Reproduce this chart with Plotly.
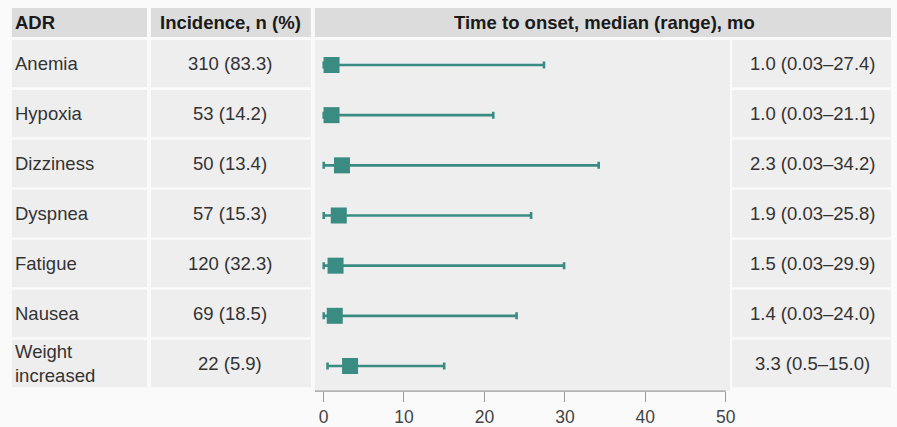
import plotly.graph_objects as go

adr = ["Anemia", "Hypoxia", "Dizziness", "Dyspnea", "Fatigue", "Nausea", "Weight<br>increased"]
incidence = ["310 (83.3)", "53 (14.2)", "50 (13.4)", "57 (15.3)", "120 (32.3)", "69 (18.5)", "22 (5.9)"]
median = [1.0, 1.0, 2.3, 1.9, 1.5, 1.4, 3.3]
low = [0.03, 0.03, 0.03, 0.03, 0.03, 0.03, 0.5]
high = [27.4, 21.1, 34.2, 25.8, 29.9, 24.0, 15.0]
range_text = ["1.0 (0.03\u201327.4)", "1.0 (0.03\u201321.1)", "2.3 (0.03\u201334.2)", "1.9 (0.03\u201325.8)",
              "1.5 (0.03\u201329.9)", "1.4 (0.03\u201324.0)", "3.3 (0.5\u201315.0)"]
headers = ["ADR", "Incidence, n (%)", "Time to onset, median (range), mo"]
xticks = [0, 10, 20, 30, 40, 50]

W, H = 897, 427
FONT = "Liberation Sans, Arial, sans-serif"
TEAL = "#3a8c82"
CELL = "#eeeeee"
HEAD = "#dcdcdc"
BG = "#fafafa"
HSIZE = 18.5
BSIZE = 18.5

def px(x):
    return x / W

def py(y):
    return 1 - y / H

n = len(adr)
ypos = list(range(n))

fig = go.Figure()
fig.add_trace(go.Scatter(
    x=median, y=ypos, mode="markers",
    marker=dict(symbol="square", size=16, color=TEAL),
    error_x=dict(type="data", symmetric=False,
                 array=[h - m for h, m in zip(high, median)],
                 arrayminus=[m - l for m, l in zip(median, low)],
                 color=TEAL, thickness=2.6, width=3.5),
    showlegend=False, hoverinfo="skip",
))

shapes = []
hdr_top, hdr_bot = 8, 37
cols = [(12, 148), (152, 313), (317, 897)]
for (x0, x1) in cols:
    shapes.append(dict(type="rect", xref="paper", yref="paper",
                       x0=px(x0), x1=px(x1), y0=py(hdr_bot), y1=py(hdr_top),
                       fillcolor=HEAD, line=dict(width=0), layer="below"))

row_top0 = 40
pitch = 50.1
cell_h = 47.5
for i in range(n):
    t = row_top0 + pitch * i
    b = t + cell_h
    for (x0, x1) in [(12, 148), (152, 313), (737, 897)]:
        shapes.append(dict(type="rect", xref="paper", yref="paper",
                           x0=px(x0), x1=px(x1), y0=py(b), y1=py(t),
                           fillcolor=CELL, line=dict(width=0), layer="below"))

shapes.append(dict(type="line", xref="x", yref="paper",
                   x0=-1.07, x1=50, y0=py(392), y1=py(392),
                   line=dict(color="#9a9a9a", width=1.2)))

annotations = []
hdr_pos = [(13, "left"), (232, "center"), (609, "center")]
for (hx, anc), txt in zip(hdr_pos, headers):
    annotations.append(dict(x=px(hx), y=py(22.5), xref="paper", yref="paper", text="<b>" + txt + "</b>",
                            showarrow=False, xanchor=anc, yanchor="middle",
                            font=dict(family=FONT, size=HSIZE, color="#1a1a1a")))
for i in range(n):
    yc = row_top0 + pitch * i + cell_h / 2
    annotations.append(dict(x=px(13), y=py(yc), xref="paper", yref="paper", text=adr[i],
                            showarrow=False, xanchor="left", yanchor="middle", align="left",
                            font=dict(family=FONT, size=BSIZE, color="#333333")))
    annotations.append(dict(x=px(232), y=py(yc), xref="paper", yref="paper", text=incidence[i],
                            showarrow=False, xanchor="center", yanchor="middle",
                            font=dict(family=FONT, size=BSIZE, color="#333333")))
    annotations.append(dict(x=px(818), y=py(yc), xref="paper", yref="paper", text=range_text[i],
                            showarrow=False, xanchor="center", yanchor="middle",
                            font=dict(family=FONT, size=BSIZE, color="#333333")))

fig.update_layout(
    autosize=True,
    margin=dict(l=0, r=0, t=0, b=0, pad=0),
    paper_bgcolor=BG, plot_bgcolor=CELL,
    shapes=shapes, annotations=annotations,
    xaxis=dict(domain=[px(317), px(735)], range=[-1.07, 50.53],
               tickvals=xticks, ticktext=[str(v) for v in xticks],
               ticks="outside", ticklen=10, tickcolor="#9a9a9a", tickwidth=1.2,
               showgrid=False, zeroline=False, showline=False,
               tickfont=dict(family=FONT, size=17.5, color="#444444")),
    yaxis=dict(domain=[py(392), py(40)], range=[n - 0.5, -0.5],
               showticklabels=False, showgrid=False, zeroline=False, ticks=""),
)

fig.write_html("out.html", config={"displayModeBar": False, "responsive": True},
               default_width="100vw", default_height="100vh",
               post_script="document.body.style.margin='0';document.body.style.padding='0';"
                           "document.body.style.overflow='hidden';"
                           "document.body.style.background='" + BG + "';")
